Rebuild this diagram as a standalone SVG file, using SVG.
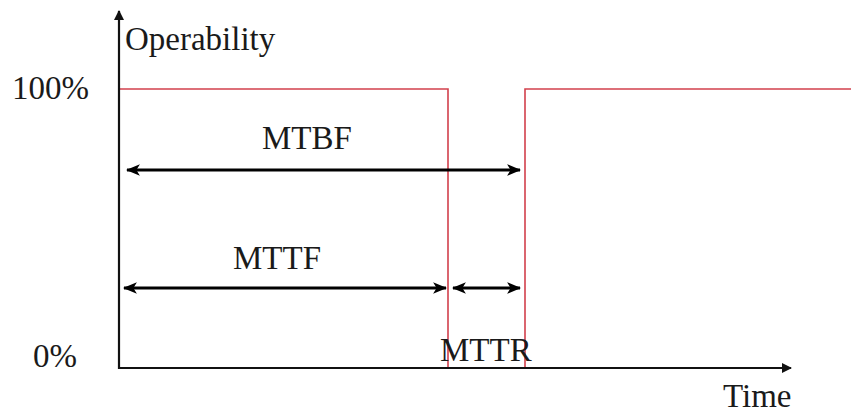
<svg xmlns="http://www.w3.org/2000/svg" width="851" height="416" viewBox="0 0 851 416">
<defs>
<style>
text{font-family:"Liberation Serif","Times New Roman",serif;font-size:33px;fill:#1a1a1a}
.axis{stroke:#111;stroke-width:2.2;fill:none}
.sig{stroke:#d2404c;stroke-width:1.6;fill:none}
.dim{stroke:#000;stroke-width:3.2;fill:none}
</style>
<marker id="ah" viewBox="0 0 10 10" refX="9" refY="5" markerWidth="10" markerHeight="10" markerUnits="userSpaceOnUse" orient="auto">
<path d="M0,0 L10,5 L0,10 Z" fill="#111"/>
</marker>
<marker id="dh" viewBox="0 0 12 10" refX="11" refY="5" markerWidth="4.4" markerHeight="3.7" orient="auto-start-reverse">
<path d="M0,0 L12,5 L0,10 L3,5 Z" fill="#000"/>
</marker>
</defs>
<rect width="851" height="416" fill="#fff"/>
<g id="signal">
<polyline class="sig" points="119,89 448,89 448,368 525,368 525,89 851,89"/>
</g>
<g id="axes">
<line class="axis" x1="119" y1="369" x2="119" y2="11" marker-end="url(#ah)"/>
<line class="axis" x1="118" y1="368" x2="791" y2="368" marker-end="url(#ah)"/>
</g>
<g id="connectors">
<line class="dim" x1="127" y1="170" x2="520" y2="170" marker-start="url(#dh)" marker-end="url(#dh)"/>
<line class="dim" x1="124" y1="288" x2="446" y2="288" marker-start="url(#dh)" marker-end="url(#dh)"/>
<line class="dim" x1="453" y1="288" x2="520" y2="288" marker-start="url(#dh)" marker-end="url(#dh)"/>
</g>
<g id="labels">
<text x="125" y="50">Operability</text>
<text x="12" y="99">100%</text>
<text x="33" y="367">0%</text>
<text x="262" y="149">MTBF</text>
<text x="233" y="269">MTTF</text>
<text x="440" y="361">MTTR</text>
<text x="723" y="407">Time</text>
</g>
</svg>
